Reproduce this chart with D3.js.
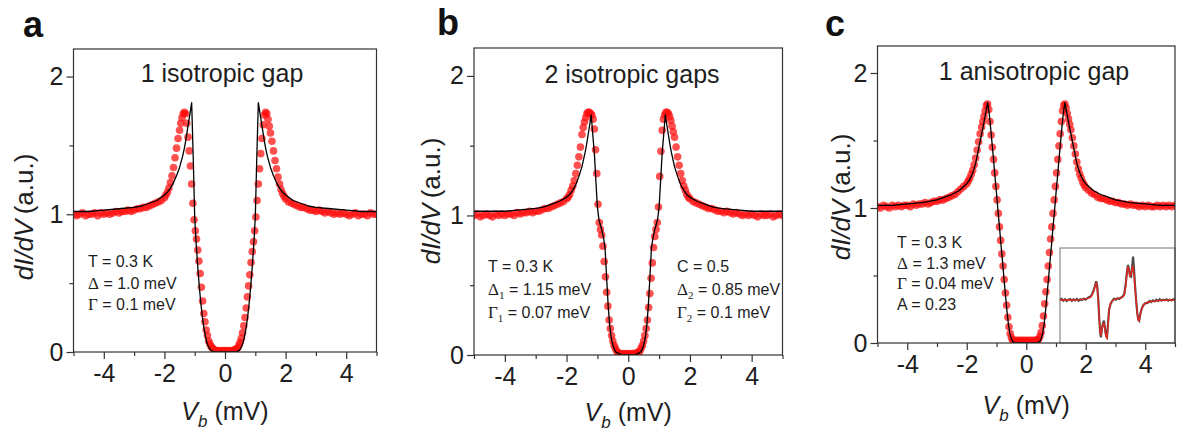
<!DOCTYPE html>
<html>
<head>
<meta charset="utf-8">
<script src="https://cdn.jsdelivr.net/npm/d3@7"></script>
<style>
  body { margin: 0; background: #fff; }
  svg { display: block; font-family: "Liberation Sans", Arial, sans-serif; }
</style>
</head>
<body>
<div id="chart"></div>
<script>
// ---- data ----
// bias voltage (mV) of the measured points, shared by the three panels
var vbData = [
  -5.0,-4.9,-4.8,-4.7,-4.6,-4.5,-4.4,-4.3,-4.2,-4.1,
  -4.0,-3.9,-3.8,-3.7,-3.6,-3.5,-3.4,-3.3,-3.2,-3.1,
  -3.0,-2.9,-2.8,-2.7,-2.6,-2.5,-2.4,-2.3,-2.2,-2.1,
  -2.0,-1.95,-1.9,-1.85,-1.8,-1.75,-1.7,-1.65,-1.6,-1.55,
  -1.5,-1.46,-1.42,-1.38,-1.34,-1.3,-1.26,-1.22,-1.18,-1.14,
  -1.1,-1.06,-1.02,-0.98,-0.94,-0.9,-0.86,-0.82,-0.78,-0.74,
  -0.7,-0.66,-0.62,-0.58,-0.54,-0.5,-0.46,-0.42,-0.38,-0.34,
  -0.3,-0.26,-0.22,-0.18,-0.14,-0.1,-0.06,-0.02,0.02,0.06,
  0.1,0.14,0.18,0.22,0.26,0.3,0.34,0.38,0.42,0.46,
  0.5,0.54,0.58,0.62,0.66,0.7,0.74,0.78,0.82,0.86,
  0.9,0.94,0.98,1.02,1.06,1.1,1.14,1.18,1.22,1.26,
  1.3,1.34,1.38,1.42,1.46,1.5,1.55,1.6,1.65,1.7,
  1.75,1.8,1.85,1.9,1.95,2.0,2.1,2.2,2.3,2.4,
  2.5,2.6,2.7,2.8,2.9,3.0,3.1,3.2,3.3,3.4,
  3.5,3.6,3.7,3.8,3.9,4.0,4.1,4.2,4.3,4.4,
  4.5,4.6,4.7,4.8,4.9,5.0
];
// measured dI/dV, panel a
var dataA = [
  1.00,0.99,1.00,1.01,0.99,1.00,1.00,1.01,0.99,1.01,
  1.00,1.01,1.00,1.01,1.02,1.01,1.02,1.02,1.03,1.02,
  1.03,1.04,1.04,1.05,1.05,1.06,1.07,1.08,1.09,1.10,
  1.12,1.14,1.16,1.19,1.23,1.28,1.34,1.41,1.48,1.55,
  1.61,1.66,1.70,1.73,1.74,1.73,1.66,1.56,1.46,1.35,
  1.22,1.08,0.96,0.88,0.82,0.74,0.66,0.57,0.47,0.37,
  0.28,0.22,0.16,0.12,0.08,0.06,0.04,0.03,0.02,0.01,
  0.01,0.01,0.00,0.01,0.00,0.01,0.00,0.01,0.00,0.01,
  0.00,0.01,0.00,0.01,0.01,0.01,0.02,0.02,0.03,0.05,
  0.07,0.10,0.14,0.19,0.25,0.32,0.40,0.48,0.56,0.65,
  0.73,0.80,0.88,0.98,1.10,1.22,1.33,1.44,1.55,1.65,
  1.72,1.74,1.73,1.69,1.64,1.59,1.53,1.46,1.39,1.33,
  1.27,1.22,1.18,1.15,1.13,1.11,1.09,1.08,1.07,1.06,
  1.05,1.05,1.04,1.03,1.03,1.02,1.03,1.02,1.01,1.02,
  1.01,1.00,1.01,1.00,1.01,1.00,0.99,1.00,1.01,0.99,
  1.00,1.00,0.99,1.01,1.00,1.00
];
// measured dI/dV, panel b
var dataB = [
  1.00,1.01,0.99,1.00,1.01,1.00,0.99,1.01,1.00,1.01,
  1.00,1.01,1.01,1.00,1.02,1.01,1.02,1.02,1.03,1.02,
  1.03,1.03,1.04,1.05,1.05,1.06,1.07,1.08,1.09,1.10,
  1.12,1.13,1.15,1.18,1.21,1.25,1.30,1.36,1.42,1.49,
  1.58,1.63,1.67,1.70,1.73,1.74,1.74,1.73,1.72,1.69,
  1.62,1.47,1.30,1.08,0.95,0.90,0.86,0.78,0.67,0.56,
  0.45,0.35,0.25,0.19,0.14,0.10,0.07,0.05,0.03,0.02,
  0.01,0.01,0.00,0.01,0.00,0.01,0.00,0.01,0.00,0.01,
  0.00,0.01,0.01,0.00,0.01,0.02,0.02,0.03,0.05,0.07,
  0.10,0.14,0.19,0.25,0.34,0.44,0.55,0.66,0.77,0.85,
  0.90,0.95,1.06,1.28,1.46,1.61,1.69,1.72,1.74,1.74,
  1.73,1.71,1.68,1.64,1.60,1.56,1.49,1.42,1.36,1.30,
  1.25,1.21,1.18,1.15,1.13,1.12,1.10,1.09,1.08,1.07,
  1.06,1.05,1.05,1.04,1.03,1.03,1.02,1.03,1.02,1.01,
  1.02,1.01,1.00,1.01,1.00,1.01,1.00,0.99,1.01,1.00,
  1.00,1.01,0.99,1.00,1.01,1.00
];
// measured dI/dV, panel c
var dataC = [
  1.01,1.00,1.02,1.01,1.00,1.02,1.01,1.02,1.01,1.02,
  1.02,1.01,1.03,1.02,1.03,1.03,1.04,1.03,1.04,1.05,
  1.05,1.06,1.06,1.07,1.08,1.09,1.10,1.12,1.14,1.16,
  1.18,1.20,1.22,1.25,1.28,1.32,1.37,1.43,1.49,1.55,
  1.60,1.64,1.68,1.72,1.76,1.77,1.73,1.64,1.54,1.45,
  1.36,1.26,1.16,1.06,0.96,0.86,0.76,0.66,0.57,0.47,
  0.37,0.28,0.19,0.12,0.07,0.04,0.02,0.02,0.01,0.02,
  0.01,0.02,0.01,0.02,0.01,0.02,0.01,0.02,0.01,0.02,
  0.01,0.02,0.01,0.02,0.01,0.02,0.02,0.02,0.03,0.05,
  0.08,0.13,0.20,0.29,0.38,0.47,0.57,0.67,0.77,0.86,
  0.96,1.06,1.16,1.26,1.36,1.46,1.55,1.64,1.72,1.76,
  1.77,1.74,1.70,1.66,1.62,1.58,1.52,1.46,1.40,1.34,
  1.29,1.25,1.22,1.19,1.17,1.15,1.13,1.11,1.10,1.08,
  1.07,1.07,1.06,1.05,1.05,1.04,1.04,1.03,1.03,1.02,
  1.03,1.02,1.02,1.01,1.02,1.01,1.02,1.01,1.01,1.02,
  1.01,1.02,1.01,1.02,1.01,1.02
];

// bias voltage of the fitted curves
var vbFit = [
  -5.0,-4.5,-4.0,-3.5,-3.0,-2.75,-2.5,-2.25,-2.0,-1.9,
  -1.8,-1.7,-1.6,-1.5,-1.45,-1.4,-1.35,-1.3,-1.25,-1.2,
  -1.15,-1.1,-1.05,-1.0,-0.95,-0.9,-0.85,-0.8,-0.75,-0.7,
  -0.65,-0.6,-0.55,-0.5,-0.45,-0.4,-0.3,-0.2,-0.1,0.0,
  0.1,0.2,0.3,0.4,0.45,0.5,0.55,0.6,0.65,0.7,
  0.75,0.8,0.85,0.9,0.95,1.0,1.05,1.1,1.15,1.2,
  1.25,1.3,1.35,1.4,1.45,1.5,1.6,1.7,1.8,1.9,
  2.0,2.25,2.5,2.75,3.0,3.5,4.0,4.5,5.0
];
var fitA = [
  1.02,1.02,1.03,1.04,1.05,1.06,1.08,1.10,1.14,1.16,
  1.19,1.23,1.28,1.34,1.38,1.42,1.47,1.53,1.60,1.67,
  1.74,1.81,1.42,0.98,0.78,0.62,0.48,0.36,0.26,0.18,
  0.12,0.07,0.04,0.02,0.01,0.005,0,0,0,0,
  0,0,0,0.005,0.01,0.02,0.04,0.07,0.12,0.18,
  0.26,0.36,0.48,0.62,0.78,0.98,1.42,1.81,1.74,1.67,
  1.60,1.53,1.47,1.42,1.38,1.34,1.28,1.23,1.19,1.16,
  1.14,1.10,1.08,1.06,1.05,1.04,1.03,1.02,1.02
];
var fitB = [
  1.03,1.03,1.03,1.04,1.05,1.06,1.08,1.10,1.13,1.15,
  1.18,1.22,1.28,1.35,1.40,1.45,1.51,1.58,1.65,1.72,
  1.58,1.45,1.25,1.06,0.97,0.93,0.89,0.84,0.76,0.55,
  0.35,0.21,0.12,0.07,0.04,0.02,0.01,0,0,0,
  0,0,0.01,0.02,0.04,0.07,0.12,0.21,0.35,0.55,
  0.76,0.84,0.89,0.93,0.97,1.06,1.25,1.45,1.58,1.72,
  1.65,1.58,1.51,1.45,1.40,1.35,1.28,1.22,1.18,1.15,
  1.13,1.10,1.08,1.06,1.05,1.04,1.03,1.03,1.03
];
var fitC = [
  1.02,1.02,1.03,1.04,1.06,1.08,1.10,1.13,1.18,1.21,
  1.26,1.33,1.44,1.55,1.60,1.66,1.72,1.78,1.71,1.60,
  1.48,1.36,1.23,1.11,0.98,0.86,0.73,0.61,0.48,0.36,
  0.24,0.14,0.07,0.03,0.01,0.005,0,0,0,0,
  0,0,0,0.005,0.01,0.03,0.07,0.14,0.24,0.36,
  0.48,0.61,0.73,0.86,0.98,1.11,1.23,1.36,1.48,1.60,
  1.71,1.78,1.72,1.66,1.60,1.55,1.44,1.33,1.26,1.21,
  1.18,1.13,1.10,1.08,1.06,1.04,1.03,1.02,1.02
];

// inset of panel c (arbitrary units): measured trace and fit
var insetMeasured = [
  [0,0.00],[0.5,0.03],[1,-0.02],[1.5,0.02],[2,-0.03],[2.5,0.01],[3,0.03],[3.5,-0.02],
  [4,0.02],[4.5,-0.01],[5,0.03],[5.5,-0.02],[6,0.02],[6.5,0.00],[7,0.04],[7.5,0.01],
  [8,0.05],[8.5,0.08],[9,0.10],[9.5,0.18],[10,0.30],[10.4,0.45],[10.7,0.56],[11,0.42],
  [11.3,0.05],[11.6,-0.55],[11.9,-1.00],[12.1,-1.12],[12.4,-0.85],[12.7,-0.70],[13,-0.62],
  [13.3,-0.85],[13.6,-1.05],[13.9,-1.10],[14.2,-0.70],[14.5,-0.30],[15,-0.10],[15.5,-0.02],
  [16,0.04],[16.5,0.01],[17,0.05],[17.5,0.03],[18,0.07],[18.5,0.10],[19,0.18],[19.4,0.45],
  [19.8,0.85],[20.1,1.05],[20.4,0.92],[20.7,0.72],[21,0.70],[21.3,0.95],[21.6,1.30],
  [21.9,0.90],[22.2,0.40],[22.5,0.00],[22.8,-0.35],[23.1,-0.58],[23.4,-0.62],[23.8,-0.40],
  [24.2,-0.25],[24.7,-0.15],[25.2,-0.10],[26,-0.08],[26.5,-0.03],[27,-0.06],[27.5,-0.01],
  [28,-0.04],[28.5,0.01],[29,-0.03],[29.5,0.02],[30,-0.02],[30.5,0.01],[31,-0.01],
  [31.5,0.02],[32,-0.02],[32.5,0.01],[33,-0.01],[33.5,0.02],[34,0.00]
];
var insetFit = [
  [0,0.0],[2,0.0],[4,0.0],[6,0.01],[8,0.04],[9,0.08],[9.5,0.15],[10,0.28],[10.4,0.42],
  [10.7,0.50],[11,0.38],[11.3,0.0],[11.6,-0.55],[11.9,-1.0],[12.1,-1.05],[12.4,-0.85],
  [12.7,-0.72],[13,-0.70],[13.3,-0.90],[13.6,-1.10],[13.9,-1.15],[14.2,-0.75],[14.5,-0.30],
  [15,-0.08],[16,0.02],[17,0.04],[18,0.06],[18.5,0.09],[19,0.15],[19.4,0.40],[19.8,0.85],
  [20.1,1.00],[20.4,0.88],[20.7,0.72],[21,0.75],[21.3,0.95],[21.6,1.00],[21.9,0.75],
  [22.2,0.35],[22.5,0.0],[22.8,-0.35],[23.1,-0.60],[23.4,-0.62],[23.8,-0.40],[24.2,-0.25],
  [24.7,-0.15],[25.2,-0.10],[26,-0.06],[28,-0.03],[30,-0.01],[32,0.0],[34,0.0]
];

// text
var panelLetters = ["a", "b", "c"];
var panelTitles = ["1 isotropic gap", "2 isotropic gaps", "1 anisotropic gap"];
var xTicks = [-4, -2, 0, 2, 4];
var xMinorTicks = [-5, -3, -1, 1, 3, 5];
var yTicks = [0, 1, 2];
var yMinorTicks = [0.5, 1.5];
// each line is a list of [text, kind]: "g" greek, "s" subscript
var paramsA = [[["T = 0.3 K"]], [["Δ","g"],[" = 1.0 meV"]], [["Γ","g"],[" = 0.1 meV"]]];
var paramsB1 = [[["T = 0.3 K"]], [["Δ","g"],["1","s"],[" = 1.15 meV"]], [["Γ","g"],["1","s"],[" = 0.07 meV"]]];
var paramsB2 = [[["C = 0.5"]], [["Δ","g"],["2","s"],[" = 0.85 meV"]], [["Γ","g"],["2","s"],[" = 0.1 meV"]]];
var paramsC = [[["T = 0.3 K"]], [["Δ","g"],[" = 1.3 meV"]], [["Γ","g"],[" = 0.04 meV"]], [["A = 0.23"]]];

// ---- layout ----
var svgWidth = 1186, svgHeight = 437;
var textColor = "#1e1e1e";

var svg = d3.select("#chart").append("svg")
    .attr("width", svgWidth)
    .attr("height", svgHeight);

var panels = [
  {data: dataA, fit: fitA, left: 73.5, right: 376.5, bottom: 352, top: 49,
   letterX: 23, letterY: 37, titleX: 222, titleY: 82, yLabX: 33, yLabY: 217, xLabY: 420,
   params: [{x: 88, y: 267, dy: 21.5, lines: paramsA}]},
  {data: dataB, fit: fitB, left: 474, right: 782.5, bottom: 355, top: 48,
   letterX: 437, letterY: 35, titleX: 632, titleY: 83, yLabX: 440, yLabY: 201, xLabY: 421,
   params: [{x: 488, y: 272, dy: 23, lines: paramsB1}, {x: 677, y: 272, dy: 23, lines: paramsB2}]},
  {data: dataC, fit: fitC, left: 877.5, right: 1175, bottom: 343, top: 46,
   letterX: 825, letterY: 36, titleX: 1034, titleY: 80, yLabX: 850, yLabY: 197, xLabY: 414,
   params: [{x: 897, y: 248, dy: 20.7, lines: paramsC}], inset: true}
];

function addLines(g, block) {
  block.lines.forEach(function(line, i) {
    var t = g.append("text")
        .attr("x", block.x)
        .attr("y", block.y + i * block.dy)
        .attr("font-size", 16)
        .attr("fill", textColor);
    var shifted = false;
    line.forEach(function(seg) {
      var s = t.append("tspan").text(seg[0]);
      if (seg[1] === "g") {
        s.attr("font-family", "'Liberation Serif', serif").attr("font-size", 17);
      }
      if (seg[1] === "s") {
        s.attr("font-family", "'Liberation Serif', serif").attr("font-size", 11).attr("dy", 4);
        shifted = true;
      } else if (shifted) {
        s.attr("dy", -4);
        shifted = false;
      }
    });
  });
}

panels.forEach(function(p, i) {
  var g = svg.append("g");
  var xScale = d3.scaleLinear().domain([-5, 5]).range([p.left, p.right]);
  var yScale = d3.scaleLinear().domain([0, 2.2]).range([p.bottom, p.top]);

  var clipId = "clip" + i;
  svg.append("clipPath").attr("id", clipId)
    .append("rect")
    .attr("x", p.left).attr("y", p.top)
    .attr("width", p.right - p.left).attr("height", p.bottom - p.top);

  var plot = g.append("g").attr("clip-path", "url(#" + clipId + ")");

  // measured points
  plot.selectAll("circle")
    .data(vbData.map(function(v, k) { return [v, p.data[k]]; }))
    .enter()
    .append("circle")
    .attr("cx", function(d) { return xScale(d[0]); })
    .attr("cy", function(d) { return yScale(d[1]); })
    .attr("r", 3.8)
    .attr("fill", "#ff0d0d")
    .attr("fill-opacity", 0.72);

  // fit
  var line = d3.line()
    .x(function(d) { return xScale(d[0]); })
    .y(function(d) { return yScale(d[1]); });
  plot.append("path")
    .datum(vbFit.map(function(v, k) { return [v, p.fit[k]]; }))
    .attr("d", line)
    .attr("fill", "none")
    .attr("stroke", "#000")
    .attr("stroke-width", 1.3)
    .attr("stroke-linejoin", "round");

  // inset (panel c)
  if (p.inset) {
    var ix = d3.scaleLinear().domain([0, 34]).range([1060, p.right]);
    var iy = d3.scaleLinear().domain([-1.29, 1.56]).range([p.bottom, 248]);
    g.append("rect")
      .attr("x", 1060).attr("y", 248)
      .attr("width", p.right - 1060).attr("height", p.bottom - 248)
      .attr("fill", "#fff")
      .attr("stroke", "#8a8a8a")
      .attr("stroke-width", 1.2);
    var iline = d3.line()
      .x(function(d) { return ix(d[0]); })
      .y(function(d) { return iy(d[1]); });
    g.append("path").datum(insetMeasured).attr("d", iline)
      .attr("fill", "none").attr("stroke", "#4a4a4a").attr("stroke-width", 2.2);
    g.append("path").datum(insetFit).attr("d", iline)
      .attr("fill", "none").attr("stroke", "#e8261e").attr("stroke-width", 1.4);
  }

  // axes
  g.append("g")
    .attr("transform", "translate(0," + p.bottom + ")")
    .call(d3.axisBottom(xScale).tickValues(xTicks).tickSize(7).tickPadding(5)
      .tickFormat(function(d) { return String(d); }));
  g.append("g")
    .attr("transform", "translate(0," + p.bottom + ")")
    .call(d3.axisBottom(xScale).tickValues(xMinorTicks).tickSize(4).tickFormat(""));
  g.append("g")
    .attr("transform", "translate(" + p.left + ",0)")
    .call(d3.axisLeft(yScale).tickValues(yTicks).tickSize(7).tickPadding(3)
      .tickFormat(function(d) { return String(d); }));
  g.append("g")
    .attr("transform", "translate(" + p.left + ",0)")
    .call(d3.axisLeft(yScale).tickValues(yMinorTicks).tickSize(4).tickFormat(""));
  g.selectAll(".domain").remove();
  g.selectAll(".tick line").attr("stroke", "#333").attr("stroke-width", 1.2);
  g.selectAll(".tick text")
    .attr("font-size", 25)
    .attr("font-family", "'Liberation Sans', Arial, sans-serif")
    .attr("fill", textColor);

  // frame
  g.append("rect")
    .attr("x", p.left).attr("y", p.top)
    .attr("width", p.right - p.left).attr("height", p.bottom - p.top)
    .attr("fill", "none")
    .attr("stroke", "#333")
    .attr("stroke-width", 1.2);

  // panel letter
  g.append("text")
    .attr("x", p.letterX).attr("y", p.letterY)
    .attr("font-size", 36).attr("font-weight", "bold")
    .attr("fill", "#111")
    .text(panelLetters[i]);

  // title
  g.append("text")
    .attr("x", p.titleX).attr("y", p.titleY)
    .attr("text-anchor", "middle")
    .attr("font-size", 25)
    .attr("fill", textColor)
    .text(panelTitles[i]);

  // y label
  var yl = g.append("text")
    .attr("transform", "translate(" + p.yLabX + "," + p.yLabY + ") rotate(-90)")
    .attr("text-anchor", "middle")
    .attr("font-size", 26)
    .attr("fill", textColor);
  yl.append("tspan").attr("font-style", "italic").text("dI/dV");
  yl.append("tspan").text("\u2009(a.u.)");

  // x label
  var xl = g.append("text")
    .attr("x", (p.left + p.right) / 2).attr("y", p.xLabY)
    .attr("text-anchor", "middle")
    .attr("font-size", 25)
    .attr("fill", textColor);
  xl.append("tspan").attr("font-style", "italic").text("V");
  xl.append("tspan").attr("font-style", "italic").attr("font-size", 17).attr("dy", 7).text("b");
  xl.append("tspan").attr("dy", -7).text(" (mV)");

  // fit parameters
  p.params.forEach(function(block) { addLines(g, block); });
});
</script>
</body>
</html>
